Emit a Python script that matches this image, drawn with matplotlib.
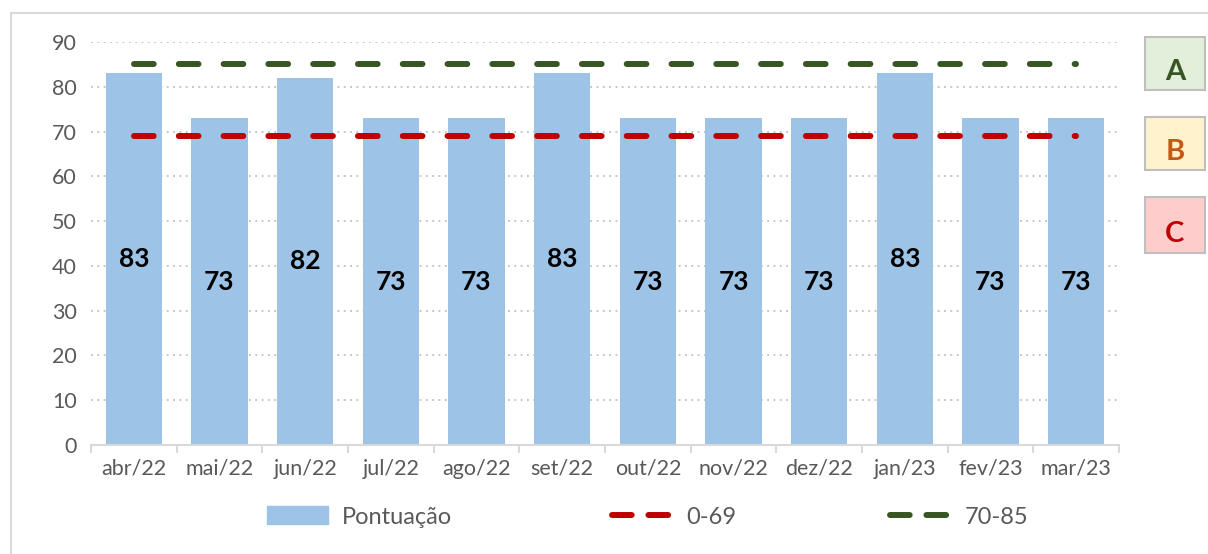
import numpy as np
import matplotlib
matplotlib.use('Agg')
import matplotlib.pyplot as plt
from matplotlib.patches import Rectangle
from matplotlib.lines import Line2D

meses = ['abr/22', 'mai/22', 'jun/22', 'jul/22', 'ago/22', 'set/22',
         'out/22', 'nov/22', 'dez/22', 'jan/23', 'fev/23', 'mar/23']
pontuacao = [83, 73, 82, 73, 73, 83, 73, 73, 73, 83, 73, 73]
faixa_c = [69] * 12
faixa_a = [85] * 12

plt.rcParams['font.family'] = ['Lato', 'DejaVu Sans']

W, H = 1208, 554
fig = plt.figure(figsize=(W / 100, H / 100), dpi=100)
ax = fig.add_axes([91 / W, 1 - 445 / H, (1119 - 91) / W, (445 - 42) / H])

x = np.arange(len(meses))
lw = 4.3
padrao = (3.3, 4.2)
ax.bar(x, pontuacao, width=0.66, color='#9DC3E6', zorder=2, label='Pontuação')
ax.plot(x, faixa_c, color='#C00000', lw=lw, dashes=padrao,
        dash_capstyle='round', zorder=3)
ax.plot(x, faixa_a, color='#375623', lw=lw, dashes=padrao,
        dash_capstyle='round', zorder=3)

for xi, v in zip(x, pontuacao):
    ax.text(xi, v / 2, str(v), ha='center', va='center', fontsize=19,
            fontweight='bold', color='black', zorder=4)

ax.set_xlim(-0.5, len(meses) - 0.5)
ax.set_ylim(0, 90)
ax.set_yticks(range(0, 91, 10))
ax.yaxis.grid(True, linestyle=(0, (1, 2.5)), color='#BFBFBF', lw=1.3, zorder=0)
for s in ['left', 'right', 'top']:
    ax.spines[s].set_visible(False)
ax.spines['bottom'].set_color('#D9D9D9')
ax.spines['bottom'].set_linewidth(1.5)
ax.set_xticks(x)
ax.set_xticklabels(meses)
ax.tick_params(axis='x', length=0, pad=10, labelsize=15.5, labelcolor='#595959')
ax.tick_params(axis='y', length=0, pad=10, labelsize=15.5, labelcolor='#595959')
ax.set_xticks(np.arange(-0.5, len(meses), 1), minor=True)
ax.tick_params(axis='x', which='minor', length=6, width=1.5, color='#D9D9D9')

# legenda inferior, uma entrada por vez
ly = 1 - 517 / H
entradas = [
    (Rectangle((0, 0), 1, 1, color='#9DC3E6'), 'Pontuação', 267),
    (Line2D([], [], color='#C00000', lw=lw, dashes=(3.3, 2.8), dash_capstyle='round'), '0-69', 612),
    (Line2D([], [], color='#375623', lw=lw, dashes=(3.3, 2.8), dash_capstyle='round'), '70-85', 890),
]
for h, txt, x0 in entradas:
    fig.legend([h], [txt], loc='center left', bbox_to_anchor=(x0 / W, ly),
               frameon=False, fontsize=17, labelcolor='#595959',
               handlelength=2.6, handletextpad=0.55, borderpad=0,
               borderaxespad=0, handleheight=0.8)

# caixas A / B / C
caixas = [('A', 37, 90, '#E2EFDA', '#375623'),
          ('B', 117, 170, '#FFF2CC', '#C65911'),
          ('C', 197, 253, '#FFCCCC', '#C00000')]
for letra, y0, y1, fundo, cor in caixas:
    fig.patches.append(Rectangle((1145 / W, 1 - y1 / H), 60 / W, (y1 - y0) / H,
                                 transform=fig.transFigure, facecolor=fundo,
                                 edgecolor='#BFBFBF', lw=1.5))
    fig.text(1175 / W, 1 - (y0 + (y1 - y0) * 0.66) / H, letra, ha='center',
             va='center', fontsize=21, fontweight='bold', color=cor)

# borda da área do gráfico
fig.patches.append(Rectangle((11 / W, -0.1), 1.2, 1 - 13 / H + 0.1,
                             transform=fig.transFigure, fill=False,
                             edgecolor='#D9D9D9', lw=1.5))

fig.savefig('out.png', dpi=100)
